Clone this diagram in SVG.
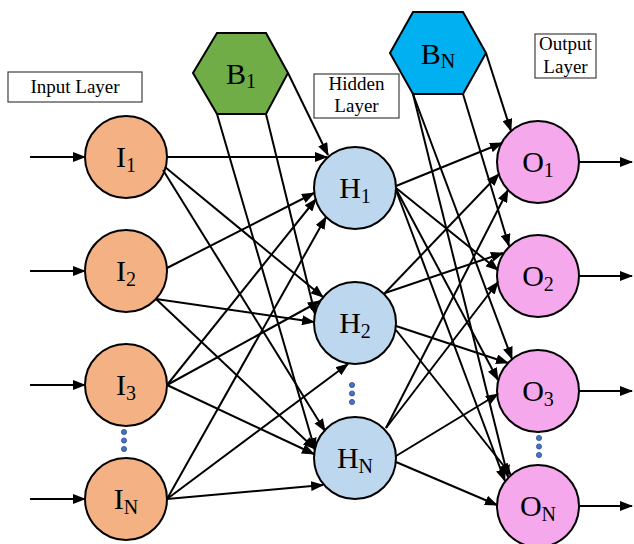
<svg xmlns="http://www.w3.org/2000/svg" width="634" height="544" viewBox="0 0 634 544">
<defs>
<style>
.lbl{font-family:"Liberation Serif","Times New Roman",serif;font-size:30px;fill:#000;text-anchor:middle}
.sub{font-size:20px}
.cap{font-family:"Liberation Serif","Times New Roman",serif;font-size:19px;fill:#000;text-anchor:middle}
.box{fill:#fff;stroke:#404040;stroke-width:1.2}
.node{stroke:#000;stroke-width:2}
.in{fill:#F4B183}
.hid{fill:#BDD7EE}
.out{fill:#F5A8EC}
.dot{fill:#4472C4;stroke:#2F528F;stroke-width:0.8}
#edges line{stroke:#000;stroke-width:2;marker-end:url(#ah)}
</style>
<marker id="ah" viewBox="0 0 13 10" refX="12" refY="5" markerWidth="13" markerHeight="10" markerUnits="userSpaceOnUse" orient="auto">
<path d="M0,0 L13,5 L0,10 z" fill="#000"/>
</marker>
</defs>
<rect width="634" height="544" fill="#fff"/>

<g id="label-input"><rect class="box" x="8" y="72" width="134" height="30"/><text class="cap" x="75" y="93">Input Layer</text></g>
<g id="label-hidden"><rect class="box" x="314" y="74" width="85" height="44"/><text class="cap" x="356.5" y="90">Hidden</text><text class="cap" x="356.5" y="112">Layer</text></g>
<g id="label-output"><rect class="box" x="535" y="34" width="61" height="44"/><text class="cap" x="565.5" y="50">Output</text><text class="cap" x="565.5" y="73">Layer</text></g>

<g id="B1"><polygon class="node" fill="#70AD47" points="217,33 266,33 288,73 266,114 217,114 193,73"/><text class="lbl" x="241" y="84">B<tspan class="sub" dy="4">1</tspan></text></g>
<g id="BN"><polygon class="node" fill="#00B0F0" points="413,12 463,12 486,53 463,94 413,94 390,53"/><text class="lbl" x="438" y="64">B<tspan class="sub" dy="4">N</tspan></text></g>

<g id="I1"><circle class="node in" cx="126" cy="157" r="41"/><text class="lbl" x="126" y="167">I<tspan class="sub" dy="5">1</tspan></text></g>
<g id="I2"><circle class="node in" cx="126" cy="271" r="41"/><text class="lbl" x="126" y="281">I<tspan class="sub" dy="5">2</tspan></text></g>
<g id="I3"><circle class="node in" cx="126" cy="385" r="41"/><text class="lbl" x="126" y="395">I<tspan class="sub" dy="5">3</tspan></text></g>
<g id="IN"><circle class="node in" cx="126" cy="499" r="41"/><text class="lbl" x="126" y="509">I<tspan class="sub" dy="5">N</tspan></text></g>
<g id="dots-input"><circle class="dot" cx="124" cy="432" r="2.6"/><circle class="dot" cx="124" cy="440.5" r="2.6"/><circle class="dot" cx="124" cy="449" r="2.6"/></g>

<g id="H1"><circle class="node hid" cx="355" cy="188" r="41"/><text class="lbl" x="355" y="198">H<tspan class="sub" dy="5">1</tspan></text></g>
<g id="H2"><circle class="node hid" cx="355" cy="323" r="41"/><text class="lbl" x="355" y="333">H<tspan class="sub" dy="5">2</tspan></text></g>
<g id="HN"><circle class="node hid" cx="355" cy="458" r="41"/><text class="lbl" x="355" y="468">H<tspan class="sub" dy="5">N</tspan></text></g>
<g id="dots-hidden"><circle class="dot" cx="352" cy="385" r="2.6"/><circle class="dot" cx="352" cy="393.5" r="2.6"/><circle class="dot" cx="352" cy="402" r="2.6"/></g>

<g id="O1"><circle class="node out" cx="538" cy="162" r="41"/><text class="lbl" x="538" y="172">O<tspan class="sub" dy="5">1</tspan></text></g>
<g id="O2"><circle class="node out" cx="538" cy="276" r="41"/><text class="lbl" x="538" y="286">O<tspan class="sub" dy="5">2</tspan></text></g>
<g id="O3"><circle class="node out" cx="538" cy="391" r="41"/><text class="lbl" x="538" y="401">O<tspan class="sub" dy="5">3</tspan></text></g>
<g id="ON"><circle class="node out" cx="538" cy="506" r="41"/><text class="lbl" x="538" y="516">O<tspan class="sub" dy="5">N</tspan></text></g>
<g id="dots-output"><circle class="dot" cx="539" cy="438" r="2.6"/><circle class="dot" cx="539" cy="446.5" r="2.6"/><circle class="dot" cx="539" cy="455" r="2.6"/></g>

<g id="edges">
<line x1="30" y1="157" x2="85" y2="157"/>
<line x1="30" y1="271" x2="85" y2="271"/>
<line x1="30" y1="385" x2="85" y2="385"/>
<line x1="30" y1="499" x2="85" y2="499"/>
<line x1="579" y1="162" x2="632" y2="162"/>
<line x1="579" y1="276" x2="632" y2="276"/>
<line x1="579" y1="391" x2="632" y2="391"/>
<line x1="579" y1="506" x2="632" y2="506"/>

<line x1="167" y1="157" x2="327" y2="157"/>
<line x1="165" y1="167" x2="323" y2="297"/>
<line x1="163" y1="170" x2="325" y2="431"/>
<line x1="167" y1="268" x2="314" y2="193"/>
<line x1="156" y1="299" x2="314" y2="322"/>
<line x1="156" y1="299" x2="315" y2="449"/>
<line x1="167" y1="385" x2="316" y2="199"/>
<line x1="167" y1="385" x2="320" y2="301"/>
<line x1="167" y1="385" x2="314" y2="454"/>
<line x1="167" y1="499" x2="326" y2="217"/>
<line x1="167" y1="499" x2="348" y2="364"/>
<line x1="167" y1="499" x2="323" y2="485"/>
<line x1="288" y1="73" x2="328" y2="155"/>
<line x1="266" y1="114" x2="315" y2="314"/>
<line x1="217" y1="114" x2="315" y2="450"/>

<line x1="396" y1="186" x2="502" y2="143"/>
<line x1="396" y1="188" x2="498" y2="270"/>
<line x1="396" y1="189" x2="498" y2="380"/>
<line x1="396" y1="190" x2="505" y2="481"/>
<line x1="384" y1="294" x2="499" y2="174"/>
<line x1="385" y1="293" x2="503" y2="253"/>
<line x1="396" y1="326" x2="508" y2="363"/>
<line x1="396" y1="330" x2="511" y2="475"/>
<line x1="386" y1="428" x2="508" y2="190"/>
<line x1="386" y1="428" x2="498" y2="282"/>
<line x1="396" y1="456" x2="498" y2="394"/>
<line x1="396" y1="462" x2="497" y2="505"/>
<line x1="486" y1="53" x2="511" y2="131"/>
<line x1="463" y1="94" x2="509" y2="246"/>
<line x1="413" y1="94" x2="512" y2="359"/>
<line x1="413" y1="94" x2="508" y2="477"/>
</g>
</svg>
